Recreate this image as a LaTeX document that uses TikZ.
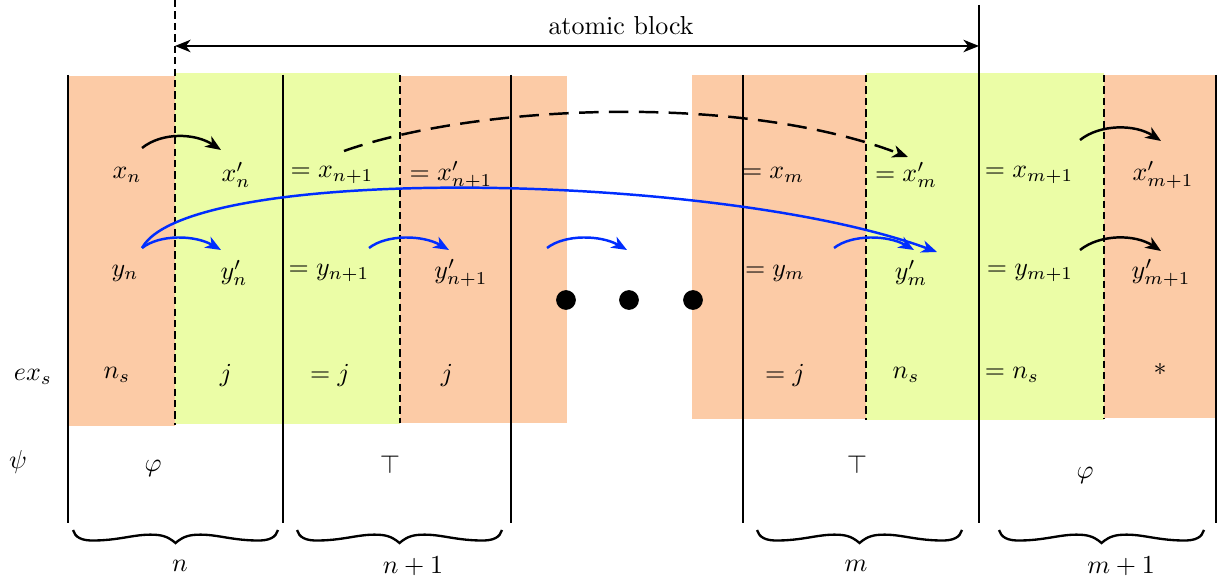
\documentclass[tikz,border=0pt]{standalone}
\usetikzlibrary{arrows.meta}
\definecolor{peach}{RGB}{252,203,166}
\definecolor{lime}{RGB}{235,253,166}
\definecolor{arcblue}{RGB}{0,45,255}
\tikzset{
  vline/.style={line width=0.8pt},
  dline/.style={line width=0.95pt,dash pattern=on 2.8pt off 1.6pt},
  tip/.style={-{Stealth[length=6pt,width=4.8pt,inset=1.8pt]}},
  karc/.style={line width=0.95pt,tip},
  barc/.style={line width=0.95pt,tip,arcblue},
  lbl/.style={inner sep=0pt},
  dot/.style={circle,fill=black,inner sep=0pt,minimum size=7.6pt},
  ubrace/.pic={\draw[line width=0.9pt]
    (0,0) .. controls (2,7) and (8,11) .. (22,10.5)
    .. controls (50,10) and (64,3) .. (85,5)
    .. controls (94,6) and (99,10) .. (102.5,13)
    .. controls (106,10) and (111,6) .. (120,5)
    .. controls (141,3) and (155,10) .. (183,10.5)
    .. controls (197,11) and (203,7) .. (205,0);}
}
\begin{document}
\begin{tikzpicture}[x=0.385pt,y=-0.385pt]
\useasboundingbox (0,0) rectangle (1219,583);
% colour bands
\fill[peach] (68,76) rectangle (175,426);
\fill[lime] (175,73) rectangle (400,424);
\fill[peach] (400,76) rectangle (567,423);
\fill[peach] (692,75) rectangle (866,419);
\fill[lime] (866,73) rectangle (1104,420);
\fill[peach] (1104,75) rectangle (1216,418);
% solid separators
\draw[vline] (68,75) -- (68,523);
\draw[vline] (283,75) -- (283,523);
\draw[vline] (511,75) -- (511,523);
\draw[vline] (743,75) -- (743,523);
\draw[vline] (979,5) -- (979,523);
\draw[vline] (1216,75) -- (1216,523);
% dashed separators
\draw[dline] (175,0) -- (175,425);
\draw[dline] (400,75) -- (400,423);
\draw[dline] (866,75) -- (866,420);
\draw[dline] (1104,75) -- (1104,418);
% atomic block
\coordinate (abL) at (175,46);
\coordinate (abR) at (979,46);
\draw[line width=0.75pt,{Stealth[length=6pt,width=4.8pt,inset=1.8pt]}-{Stealth[length=6pt,width=4.8pt,inset=1.8pt]}] (abL) -- (abR);
\node[lbl] (ab) at (621,26) {atomic block};
% row labels
\node[lbl] (exs) at (33,377) {$ex_s$};
\node[lbl] (psi) at (18,462) {$\psi$};
% x row
\node[lbl] (xn) at (127,175) {$x_n$};
\node[lbl] (xnp) at (236,175) {$x'_n$};
\node[lbl] (xn1) at (332,175) {$=x_{n+1}$};
\node[lbl] (xn1p) at (451,175) {$=x'_{n+1}$};
\node[lbl] (xm) at (773,175) {$=x_m$};
\node[lbl] (xmp) at (906,175) {$=x'_m$};
\node[lbl] (xm1) at (1029,175) {$=x_{m+1}$};
\node[lbl] (xm1p) at (1163,175) {$x'_{m+1}$};
% y row
\node[lbl] (yn) at (125,273) {$y_n$};
\node[lbl] (ynp) at (234,273) {$y'_n$};
\node[lbl] (yn1) at (329,273) {$=y_{n+1}$};
\node[lbl] (yn1p) at (461,273) {$y'_{n+1}$};
\node[lbl] (ym) at (775,273) {$=y_m$};
\node[lbl] (ymp) at (911,273) {$y'_m$};
\node[lbl] (ym1) at (1030,273) {$=y_{m+1}$};
\node[lbl] (ym1p) at (1161,273) {$y'_{m+1}$};
% ex row
\node[lbl] (e1) at (117,375) {$n_s$};
\node[lbl] (e2) at (226,375) {$j$};
\node[lbl] (e3) at (330,375) {$=j$};
\node[lbl] (e4) at (447,375) {$j$};
\node[lbl] (e5) at (785,375) {$=j$};
\node[lbl] (e6) at (906,375) {$n_s$};
\node[lbl] (e7) at (1012,375) {$=n_s$};
\node[lbl] (e8) at (1160,369) {$*$};
% psi row
\node[lbl] (p1) at (153,468) {$\varphi$};
\node[lbl] (p2) at (390,464) {$\top$};
\node[lbl] (p3) at (857,464) {$\top$};
\node[lbl] (p4) at (1085,475) {$\varphi$};
% dots
\node[dot] (d1) at (566,300) {};
\node[dot] (d2) at (629,300) {};
\node[dot] (d3) at (693,300) {};
% arc end points
\coordinate (ax1s) at (142,148); \coordinate (ax1e) at (221,150);
\coordinate (ax2s) at (1080,140); \coordinate (ax2e) at (1161,141);
\coordinate (ay3s) at (1080,250); \coordinate (ay3e) at (1161,251);
\coordinate (adS) at (344,151); \coordinate (adE) at (908,157);
\coordinate (b1s) at (142,248); \coordinate (b1e) at (221,250);
\coordinate (b2s) at (369,248); \coordinate (b2e) at (449,250);
\coordinate (b3s) at (547,248); \coordinate (b3e) at (627,250);
\coordinate (b4s) at (834,248); \coordinate (b4e) at (914,250);
\coordinate (bLe) at (937,252);
% black arcs
\draw[karc] (ax1s) .. controls +(20,-16) and +(-26,-17) .. (ax1e);
\draw[karc] (ax2s) .. controls +(20,-16) and +(-26,-17) .. (ax2e);
\draw[karc] (ay3s) .. controls +(20,-16) and +(-26,-17) .. (ay3e);
\draw[karc,dash pattern=on 7.5pt off 4pt] (adS) .. controls +(130,-46) and +(-170,-65) .. (adE);
% blue arcs
\draw[barc] (b1s) .. controls +(18,-14) and +(-26,-15) .. (b1e);
\draw[barc] (b2s) .. controls +(18,-14) and +(-26,-15) .. (b2e);
\draw[barc] (b3s) .. controls +(18,-14) and +(-26,-15) .. (b3e);
\draw[barc] (b4s) .. controls +(18,-14) and +(-26,-15) .. (b4e);
\draw[barc] (b1s) .. controls (188,163) and (720,172) .. (bLe);
% braces
\pic at (73,530) {ubrace};
\pic at (297,530) {ubrace};
\pic at (757,530) {ubrace};
\pic at (999,530) {ubrace};
\node[lbl] (bn) at (180,566) {$n$};
\node[lbl] (bn1) at (413,566) {$n+1$};
\node[lbl] (bm) at (856,566) {$m$};
\node[lbl] (bm1) at (1121,566) {$m+1$};
\end{tikzpicture}
\end{document}
